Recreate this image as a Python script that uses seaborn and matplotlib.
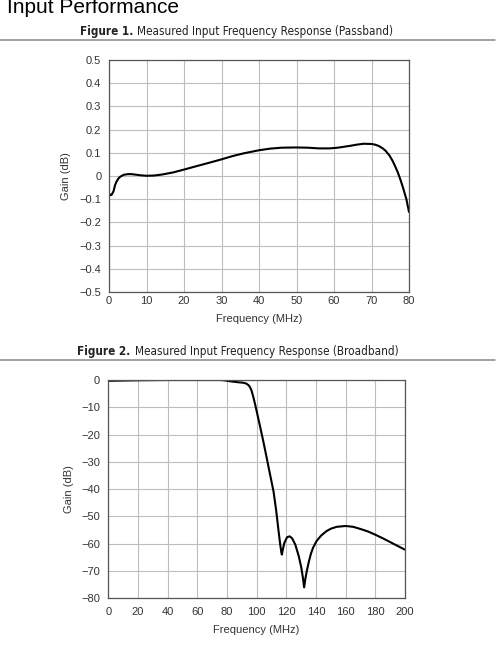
# 输入性能：两张频率响应曲线图
import matplotlib.pyplot as plt
import numpy as np
import pandas as pd
import seaborn as sns
from matplotlib.lines import Line2D
from matplotlib import font_manager

# 1、数据
freq_pass = [0.0, 0.3, 0.7, 1.2, 1.6, 2.0, 2.5, 3.0, 3.9, 5.0, 6.0, 7.0, 8.5, 10,
             12, 14, 17, 20.3, 23, 26, 29.4, 33, 36, 40, 43, 46, 50, 53, 56, 58.8,
             61, 64.3, 66, 67.9, 70, 71, 72, 73, 73.8, 74.8, 75.6, 76.3, 77.0,
             77.7, 78.4, 79.3, 80]
gain_pass = [-0.074, -0.083, -0.081, -0.066, -0.040, -0.024, -0.011, -0.003, 0.005,
             0.008, 0.008, 0.006, 0.003, 0.001, 0.002, 0.006, 0.015, 0.029, 0.041,
             0.054, 0.069, 0.086, 0.098, 0.111, 0.118, 0.122, 0.123, 0.122, 0.119,
             0.119, 0.122, 0.130, 0.135, 0.139, 0.138, 0.135, 0.129, 0.119, 0.108,
             0.088, 0.066, 0.042, 0.016, -0.015, -0.050, -0.100, -0.155]

freq_broad = [0, 10, 20, 40, 60, 75, 78, 80, 84, 88, 91, 93, 94.5, 95.5, 96.5, 97.7,
              99, 100, 102.3, 104.5, 106.8, 109.1, 111.4, 113.2, 114.8, 115.9, 116.6,
              117.0, 117.5, 118.6, 120.5, 122.3, 123.9, 126.1, 128.4, 130.0, 131.2,
              132.0, 132.8, 133.7, 135, 136.5, 138, 140.4, 143.5, 147, 150, 154, 160,
              165, 170, 175, 180, 185, 190, 195, 200]
gain_broad = [-0.3, -0.2, -0.1, 0.0, 0.0, 0.0, -0.1, -0.3, -0.6, -0.85, -1.0, -1.3,
              -1.9, -2.6, -3.8, -6.1, -9.0, -11.4, -17, -22.5, -28.6, -34.8, -40.9,
              -48, -55.5, -60.4, -63, -64, -62.5, -59.8, -57.6, -57.3, -58.0, -60.4,
              -64.6, -68.5, -72.5, -76, -73, -70.3, -67, -63.8, -61.5, -59, -57,
              -55.4, -54.5, -53.8, -53.5, -53.8, -54.6, -55.5, -56.7, -58, -59.4,
              -60.8, -62.2]

yticks_pass = [-0.5, -0.4, -0.3, -0.2, -0.1, 0, 0.1, 0.2, 0.3, 0.4, 0.5]
ytick_labels_pass = ['−0.5', '−0.4', '−0.3', '−0.2', '−0.1', '0', '0.1', '0.2', '0.3', '0.4', '0.5']
xticks_pass = [0, 10, 20, 30, 40, 50, 60, 70, 80]
yticks_broad = [-80, -70, -60, -50, -40, -30, -20, -10, 0]
ytick_labels_broad = ['−80', '−70', '−60', '−50', '−40', '−30', '−20', '−10', '0']
xticks_broad = [0, 20, 40, 60, 80, 100, 120, 140, 160, 180, 200]

df1 = pd.DataFrame({'Frequency (MHz)': freq_pass, 'Gain (dB)': gain_pass})
df2 = pd.DataFrame({'Frequency (MHz)': freq_broad, 'Gain (dB)': gain_broad})

# 2、样式
sns.set_theme(style="whitegrid")
plt.rcParams['font.family'] = ['Liberation Sans', 'DejaVu Sans']
plt.rcParams['axes.edgecolor'] = '#555555'
plt.rcParams['axes.linewidth'] = 0.9
plt.rcParams['grid.color'] = '#bdbdbd'
plt.rcParams['grid.linewidth'] = 0.8
plt.rcParams['xtick.color'] = '#333333'
plt.rcParams['ytick.color'] = '#333333'
plt.rcParams['axes.labelcolor'] = '#333333'

# 标题用窄体字（有就用，没有就缩小字号）
narrow = {}
for f in font_manager.fontManager.ttflist:
    if f.style != 'normal':
        continue
    if f.name == 'Liberation Sans Narrow' or (f.name == 'DejaVu Sans' and f.stretch == 'condensed'):
        w = f.weight if isinstance(f.weight, int) else font_manager.weight_dict.get(f.weight, 400)
        key = 'bold' if w >= 600 else 'normal'
        if key not in narrow or f.name == 'Liberation Sans Narrow':
            narrow[key] = f.fname
if 'normal' in narrow and 'bold' in narrow:
    title_reg = font_manager.FontProperties(fname=narrow['normal'], size=8.4)
    title_bold = font_manager.FontProperties(fname=narrow['bold'], size=8.4)
else:
    title_reg = font_manager.FontProperties(family='Liberation Sans', size=8.3)
    title_bold = font_manager.FontProperties(family='Liberation Sans', weight='bold', size=8.3)

fig = plt.figure(figsize=(5.04, 6.57), dpi=100)

# 页面标题
fig.text(7 / 504, 1 - 12.7 / 657, 'Input Performance', fontsize=15,
         va='baseline', ha='left', color='black')

# 3、图1 通带
fig.text(133 / 504, 1 - 35 / 657, 'Figure 1.', fontproperties=title_bold,
         ha='right', va='baseline', color='#222222')
fig.text(137 / 504, 1 - 35 / 657, 'Measured Input Frequency Response (Passband)',
         fontproperties=title_reg, ha='left', va='baseline', color='#222222')
fig.add_artist(Line2D([0, 495 / 504], [1 - 40 / 657, 1 - 40 / 657],
                      color='#888888', lw=1.1))

ax1 = fig.add_axes([109 / 504, 1 - 292 / 657, 300 / 504, 232 / 657])
sns.lineplot(data=df1, x='Frequency (MHz)', y='Gain (dB)', ax=ax1,
             color='black', linewidth=1.5)
ax1.set_xlim(0, 80)
ax1.set_ylim(-0.5, 0.5)
ax1.set_xticks(xticks_pass)
ax1.set_yticks(yticks_pass)
ax1.set_yticklabels(ytick_labels_pass)
ax1.tick_params(axis='both', labelsize=8, length=0)
ax1.tick_params(axis='x', pad=3)
ax1.tick_params(axis='y', pad=5.5)
ax1.set_xlabel('Frequency (MHz)', fontsize=8, labelpad=5.5)
ax1.set_ylabel('Gain (dB)', fontsize=8, labelpad=6)

# 4、图2 宽带
fig.text(130 / 504, 1 - 355 / 657, 'Figure 2.', fontproperties=title_bold,
         ha='right', va='baseline', color='#222222')
fig.text(135 / 504, 1 - 355 / 657, 'Measured Input Frequency Response (Broadband)',
         fontproperties=title_reg, ha='left', va='baseline', color='#222222')
fig.add_artist(Line2D([0, 495 / 504], [1 - 360 / 657, 1 - 360 / 657],
                      color='#888888', lw=1.1))

ax2 = fig.add_axes([108.3 / 504, 1 - 598.3 / 657, 296.7 / 504, 218.3 / 657])
sns.lineplot(data=df2, x='Frequency (MHz)', y='Gain (dB)', ax=ax2,
             color='black', linewidth=1.5)
ax2.set_xlim(0, 200)
ax2.set_ylim(-80, 0)
ax2.set_xticks(xticks_broad)
ax2.set_yticks(yticks_broad)
ax2.set_yticklabels(ytick_labels_broad)
ax2.tick_params(axis='both', labelsize=8, length=0)
ax2.tick_params(axis='x', pad=6)
ax2.tick_params(axis='y', pad=6)
ax2.set_xlabel('Frequency (MHz)', fontsize=8, labelpad=6)
ax2.set_ylabel('Gain (dB)', fontsize=8, labelpad=5)

fig.savefig('out.png', dpi=100)
